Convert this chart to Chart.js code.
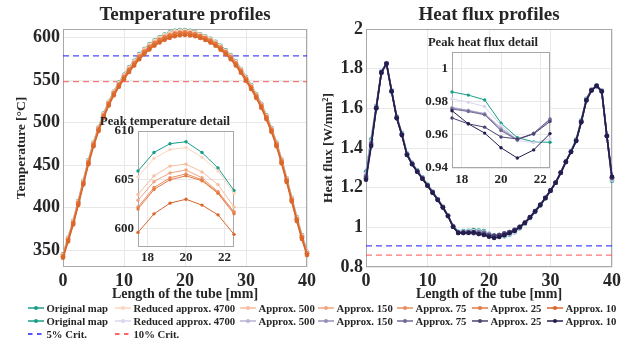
<!DOCTYPE html>
<html>
<head>
<meta charset="utf-8">
<script src="https://cdn.jsdelivr.net/npm/chart.js@4.4.1/dist/chart.umd.min.js"></script>
<style>
  body { margin: 0; background: #fff; }
  #wrap { position: relative; width: 639px; height: 341px; overflow: hidden; background: #fff; }
  #wrap canvas { position: absolute; }
  .leg { position: absolute; height: 14px; display: flex; align-items: center; white-space: nowrap;
         font: bold 10.7px "Liberation Serif", serif; color: #262626; }
  .leg svg { margin-right: 2.5px; }
</style>
</head>
<body>
<div id="wrap">
  <canvas id="tempMain" width="320" height="303" style="left:0;top:0"></canvas>
  <canvas id="fluxMain" width="319" height="303" style="left:320px;top:0"></canvas>
  <canvas id="tempInset" width="180" height="160" style="left:96px;top:110px"></canvas>
  <canvas id="fluxInset" width="170" height="165" style="left:416px;top:25px"></canvas>
  <div id="legend"></div>
</div>
<script>
// positions along the tube [mm]
var tubeX = [0, 0.833, 1.667, 2.5, 3.333, 4.167, 5, 5.833, 6.667, 7.5, 8.333, 9.167, 10, 10.833, 11.667, 12.5,
  13.333, 14.167, 15, 15.833, 16.667, 17.5, 18.333, 19.167, 20, 20.833, 21.667, 22.5, 23.333, 24.167, 25,
  25.833, 26.667, 27.5, 28.333, 29.167, 30, 30.833, 31.667, 32.5, 33.333, 34.167, 35, 35.833, 36.667, 37.5,
  38.333, 39.167, 40];

var seriesNames = ['Original map', 'Reduced approx. 4700', 'Approx. 500', 'Approx. 150', 'Approx. 75', 'Approx. 25', 'Approx. 10'];

// temperature profiles [°C]
var tempOriginal = [345, 364.5, 384.5, 407.5, 431.5, 455.5, 476.5, 494.5, 510.5, 524.5, 536.5, 547, 556, 565, 572.5, 580.5,
  586.5, 592, 596.5, 600.3, 603.4, 605.9, 607.8, 608.7, 608.9, 607.8, 606.2, 603.9, 601.4, 598.4, 594.8,
  590.1, 585, 579, 571.6, 563, 553.5, 544, 533.5, 522, 508.5, 493.5, 476.5, 456.5, 434.5, 411.5, 388.5, 367.5, 348];
var tempReduced4700 = [344.5, 364, 384, 407, 431, 455, 476, 494, 510, 524.3, 536.3, 546.5, 555.5, 564.3, 572, 579.7,
  585.8, 591.3, 595.9, 599.7, 602.8, 605.3, 607.2, 608.1, 608.3, 607.3, 605.9, 603.6, 601.1, 598, 594.3,
  589.6, 584.4, 578.4, 571, 562.5, 553, 543.5, 533, 521.5, 508, 493, 476, 456, 434, 411, 388, 367, 347.5];
var tempApprox500 = [343.5, 363, 383, 406, 430, 454, 475, 493, 509, 523, 535, 545.3, 554.3, 563, 570.6, 578.2,
  584.3, 589.8, 594.3, 598.1, 601.2, 603.5, 605.4, 606.4, 606.6, 605.8, 604.5, 602.2, 599.8, 596.8, 593.1,
  588.4, 583.2, 577.2, 569.8, 561.3, 551.8, 542.3, 531.8, 520.3, 506.8, 491.8, 474.8, 454.8, 432.6, 409.5, 386.5, 365.5, 346.3];
var tempApprox150 = [343, 362.5, 382.5, 405.5, 429.5, 453.5, 474.5, 492.5, 508.5, 522.6, 534.6, 544.8, 553.8, 562.4, 570, 577.6,
  583.7, 589.2, 593.7, 597.5, 600.6, 602.9, 604.8, 605.7, 606.0, 605.2, 603.8, 601.7, 599.3, 596.3, 592.6,
  587.9, 582.7, 576.7, 569.3, 560.8, 551.3, 541.8, 531.3, 519.8, 506.3, 491.3, 474.3, 454.3, 432.2, 409.2, 386.2, 365.2, 346];
var tempApprox75 = [342.5, 362, 382, 405, 429, 453, 474, 492, 508, 522.2, 534.2, 544.3, 553.3, 561.9, 569.5, 577.1,
  583.2, 588.7, 593.2, 597, 600, 602.2, 604.2, 605.2, 605.6, 605.0, 603.7, 601.7, 599.2, 596.2, 592.5,
  587.8, 582.6, 576.6, 569.2, 560.7, 551.2, 541.7, 531.2, 519.7, 506.2, 491.2, 474.2, 454.2, 432.1, 409.1, 386.1, 365.1, 345.8];
var tempApprox25 = [342.3, 361.8, 381.8, 404.8, 428.8, 452.8, 473.8, 491.8, 507.8, 522, 534, 544.1, 553.1, 561.7, 569.3, 576.9,
  583, 588.5, 593, 596.8, 599.8, 602.0, 604.0, 605.0, 605.4, 604.9, 603.6, 601.5, 599, 596, 592.3,
  587.6, 582.4, 576.4, 569, 560.5, 551, 541.5, 531, 519.5, 506, 491, 474, 454, 431.9, 408.9, 385.9, 364.9, 345.6];
var tempApprox10 = [341, 360, 380, 403, 427, 451, 472, 490, 506, 520, 532, 542, 551, 559.5, 567, 574.5,
  580.5, 586, 590.5, 594.2, 597.3, 599.6, 601.5, 602.6, 603.0, 602.4, 601.4, 599.4, 597.0, 594.0, 590.3,
  585.6, 580.4, 574.4, 567, 558.5, 549, 539.5, 529, 517.5, 504, 489, 472, 452, 430, 407, 384, 363, 344];

// heat flux profiles [W/mm^2]
var fluxOriginal = [1.28, 1.443, 1.612, 1.785, 1.828, 1.69, 1.558, 1.475, 1.372, 1.325, 1.287, 1.252, 1.216, 1.181, 1.143, 1.104,
  1.06, 1.006, 0.978, 0.981, 0.983, 0.9858, 0.9839, 0.981, 0.967, 0.9583, 0.9557, 0.9555, 0.962, 0.975, 0.995,
  1.018, 1.047, 1.078, 1.11, 1.146, 1.184, 1.225, 1.276, 1.332, 1.385, 1.442, 1.54, 1.648, 1.695, 1.716, 1.69, 1.462, 1.235];
var fluxReduced4700 = [1.27, 1.435, 1.608, 1.784, 1.827, 1.689, 1.556, 1.472, 1.37, 1.323, 1.285, 1.25, 1.214, 1.179, 1.141, 1.103,
  1.059, 1.005, 0.976, 0.978, 0.98, 0.9816, 0.9796, 0.977, 0.9657, 0.9565, 0.9553, 0.9575, 0.964, 0.977, 0.996,
  1.019, 1.048, 1.079, 1.111, 1.147, 1.184, 1.225, 1.276, 1.331, 1.383, 1.44, 1.537, 1.646, 1.694, 1.715, 1.689, 1.461, 1.24];
var fluxApprox500 = [1.262, 1.43, 1.606, 1.783, 1.827, 1.688, 1.555, 1.47, 1.369, 1.322, 1.284, 1.249, 1.213, 1.178, 1.14, 1.102,
  1.058, 1.004, 0.975, 0.976, 0.977, 0.9765, 0.9748, 0.9728, 0.964, 0.9572, 0.9605, 0.9688, 0.976, 0.987, 1.003,
  1.024, 1.052, 1.082, 1.114, 1.149, 1.186, 1.226, 1.276, 1.331, 1.382, 1.438, 1.535, 1.644, 1.693, 1.714, 1.688, 1.461, 1.245];
var fluxApprox150 = [1.258, 1.425, 1.605, 1.782, 1.826, 1.687, 1.554, 1.469, 1.368, 1.321, 1.283, 1.248, 1.212, 1.177, 1.14, 1.102,
  1.058, 1.004, 0.974, 0.975, 0.976, 0.976, 0.9745, 0.9724, 0.9632, 0.957, 0.9608, 0.9692, 0.976, 0.987, 1.003,
  1.024, 1.052, 1.082, 1.114, 1.149, 1.186, 1.226, 1.276, 1.331, 1.382, 1.437, 1.534, 1.643, 1.692, 1.714, 1.687, 1.461, 1.247];
var fluxApprox75 = [1.254, 1.42, 1.603, 1.781, 1.826, 1.686, 1.553, 1.468, 1.367, 1.32, 1.282, 1.247, 1.211, 1.176, 1.139, 1.101,
  1.058, 1.004, 0.973, 0.974, 0.975, 0.9755, 0.974, 0.972, 0.9625, 0.9568, 0.961, 0.9695, 0.976, 0.987, 1.003,
  1.024, 1.052, 1.082, 1.114, 1.149, 1.186, 1.226, 1.276, 1.331, 1.381, 1.436, 1.533, 1.642, 1.691, 1.713, 1.686, 1.46, 1.25];
var fluxApprox25 = [1.247, 1.415, 1.601, 1.78, 1.825, 1.686, 1.552, 1.467, 1.366, 1.319, 1.281, 1.246, 1.211, 1.176, 1.139, 1.101,
  1.057, 1.003, 0.972, 0.972, 0.972, 0.9701, 0.9666, 0.9646, 0.9587, 0.9575, 0.9605, 0.968, 0.975, 0.986, 1.002,
  1.023, 1.051, 1.081, 1.113, 1.148, 1.185, 1.225, 1.275, 1.33, 1.381, 1.436, 1.532, 1.641, 1.691, 1.713, 1.686, 1.46, 1.252];
var fluxApprox10 = [1.24, 1.41, 1.6, 1.78, 1.825, 1.685, 1.55, 1.465, 1.365, 1.318, 1.28, 1.245, 1.21, 1.175, 1.138, 1.1,
  1.057, 1.003, 0.972, 0.972, 0.973, 0.9745, 0.9666, 0.961, 0.9522, 0.946, 0.9509, 0.9607, 0.97, 0.982, 1.0,
  1.022, 1.05, 1.08, 1.112, 1.148, 1.185, 1.225, 1.275, 1.33, 1.38, 1.435, 1.53, 1.64, 1.69, 1.712, 1.685, 1.46, 1.255];

// 5% and 10% criteria
var tempCrit = [578.4, 548.0];
var fluxCrit = [0.907, 0.860];

// ticks
var xTicksMain = [0, 10, 20, 30, 40];
var xTicksInset = [18, 20, 22];
var tempTicks = [350, 400, 450, 500, 550, 600];
var tempInsetTicks = [600, 605, 610];
var fluxTicks = [0.8, 1, 1.2, 1.4, 1.6, 1.8, 2];
var fluxInsetTicks = [0.94, 0.96, 0.98, 1];

// indices shown in the zoomed insets (17.5 .. 22.5 mm)
var insetFrom = 21, insetTo = 28;

var tempSeries = [tempOriginal, tempReduced4700, tempApprox500, tempApprox150, tempApprox75, tempApprox25, tempApprox10];
var fluxSeries = [fluxOriginal, fluxReduced4700, fluxApprox500, fluxApprox150, fluxApprox75, fluxApprox25, fluxApprox10];

var tempColors = ['#1b9e87', '#fcd6c1', '#f8bd9f', '#f2a47f', '#eb8c5f', '#e47a44', '#d9662b'];
var fluxColors = ['#1b9e87', '#d8d6ee', '#b7b2d4', '#958eb6', '#706894', '#4a4272', '#241e4e'];
var critColors = ['rgba(40,40,255,0.85)', 'rgba(255,70,70,0.75)'];

var ink = '#262626';
var gridColor = '#e8e8e8';
var serif = '"Liberation Serif", "Times New Roman", serif';

// white plot background + grey box round the axes
var framePlugin = {
  id: 'frame',
  beforeDraw: function (chart, args, opts) {
    if (!opts.fill) return;
    var a = chart.chartArea, ctx = chart.ctx;
    ctx.save();
    ctx.fillStyle = opts.fill;
    ctx.fillRect(a.left, a.top, a.right - a.left, a.bottom - a.top);
    ctx.restore();
  },
  beforeDatasetsDraw: function (chart) {
    var a = chart.chartArea, ctx = chart.ctx;
    ctx.save();
    ctx.strokeStyle = '#a8a8a8';
    ctx.lineWidth = 1;
    ctx.strokeRect(Math.round(a.left) + 0.5, Math.round(a.top) + 0.5, Math.round(a.right - a.left) - 1, Math.round(a.bottom - a.top) - 1);
    ctx.restore();
  }
};

function label(v) {
  return String(Math.round(v * 100) / 100);
}

function critLine(y, color, x0, x1) {
  return {
    data: [{x: x0, y: y}, {x: x1, y: y}],
    borderColor: color, borderWidth: 1.3, borderDash: [6, 4],
    pointRadius: 0, order: 20, clip: false
  };
}

function makeChart(id, cfg) {
  var datasets = cfg.series.map(function (s, k) {
    var xs = tubeX.slice(cfg.from, cfg.to);
    var ys = s.slice(cfg.from, cfg.to);
    return {
      label: seriesNames[k],
      data: xs.map(function (x, i) { return {x: x, y: ys[i]}; }),
      borderColor: cfg.colors[k],
      backgroundColor: cfg.colors[k],
      pointBackgroundColor: cfg.colors[k],
      borderWidth: cfg.lineWidth,
      pointRadius: cfg.pointRadius,
      pointBorderWidth: 0,
      order: 6 - k,
      clip: false
    };
  });
  if (cfg.crit) {
    datasets.push(critLine(cfg.crit[0], critColors[0], 0, 40));
    datasets.push(critLine(cfg.crit[1], critColors[1], 0, 40));
  }

  return new Chart(document.getElementById(id), {
    type: 'line',
    data: {datasets: datasets},
    options: {
      responsive: false,
      animation: false,
      layout: {padding: {left: 0, right: cfg.padRight, top: 0, bottom: 0}},
      plugins: {
        legend: {display: false},
        tooltip: {enabled: false},
        frame: {fill: cfg.fill},
        title: {
          display: true, text: cfg.title, fullSize: cfg.titleFull, color: ink,
          font: {family: serif, size: cfg.titleSize, weight: 'bold', lineHeight: 1.2},
          padding: cfg.titlePad
        }
      },
      scales: {
        x: {
          type: 'linear', min: cfg.xMin, max: cfg.xMax,
          afterBuildTicks: function (s) { s.ticks = cfg.xTicks.map(function (v) { return {value: v}; }); },
          afterFit: function (s) { s.height = cfg.xHeight; },
          grid: {color: gridColor, drawTicks: false},
          border: {display: false},
          ticks: {color: ink, font: {family: serif, size: cfg.tickSize, weight: 'bold'}, padding: cfg.xPad,
                  maxRotation: 0, autoSkip: false, callback: label},
          title: {display: !!cfg.xTitle, text: cfg.xTitle, color: ink,
                  font: {family: serif, size: 14, weight: 'bold'}, padding: {top: 0, bottom: 0}}
        },
        y: {
          type: 'linear', min: cfg.yMin, max: cfg.yMax,
          afterBuildTicks: function (s) { s.ticks = cfg.yTicks.map(function (v) { return {value: v}; }); },
          afterFit: function (s) { s.width = cfg.yWidth; },
          grid: {color: gridColor, drawTicks: false},
          border: {display: false},
          ticks: {color: ink, font: {family: serif, size: cfg.tickSize, weight: 'bold'}, padding: cfg.yPad,
                  autoSkip: false, callback: label},
          title: {display: !!cfg.yTitle, text: cfg.yTitle, color: ink,
                  font: {family: serif, size: 13.5, weight: 'bold'}, padding: {top: cfg.yTitlePad, bottom: 0}}
        }
      }
    },
    plugins: [framePlugin]
  });
}

// main plots
makeChart('tempMain', {
  series: tempSeries, colors: tempColors, crit: tempCrit, from: 0, to: 49,
  lineWidth: 1.6, pointRadius: 2.3,
  title: 'Temperature profiles', titleSize: 19, titleFull: false, titlePad: {top: 4, bottom: 2.2},
  xMin: 0, xMax: 40, xTicks: xTicksMain, xHeight: 36, xPad: 4, xTitle: 'Length of the tube [mm]',
  yMin: 330, yMax: 610, yTicks: tempTicks, yWidth: 63, yPad: 3, yTitle: 'Temperature [°C]', yTitlePad: 13,
  tickSize: 18, padRight: 12
});
makeChart('fluxMain', {
  series: fluxSeries, colors: fluxColors, crit: fluxCrit, from: 0, to: 49,
  lineWidth: 1.6, pointRadius: 2.3,
  title: 'Heat flux profiles', titleSize: 19, titleFull: false, titlePad: {top: 4, bottom: 2.2},
  xMin: 0, xMax: 40, xTicks: xTicksMain, xHeight: 36, xPad: 4, xTitle: 'Length of the tube [mm]',
  yMin: 0.8, yMax: 2, yTicks: fluxTicks, yWidth: 46, yPad: 3, yTitle: 'Heat flux [W/mm²]', yTitlePad: 0,
  tickSize: 18, padRight: 27
});

// zoomed insets (canvas centred on the plot area so the title centres on it)
makeChart('tempInset', {
  series: tempSeries, colors: tempColors, from: insetFrom, to: insetTo,
  lineWidth: 1, pointRadius: 1.7, fill: '#ffffff',
  title: 'Peak temperature detail', titleSize: 12.6, titleFull: true, titlePad: {top: 4.1, bottom: 1.8},
  xMin: 17.5, xMax: 22.5, xTicks: xTicksInset, xHeight: 23, xPad: 3,
  yMin: 598.1, yMax: 610, yTicks: tempInsetTicks, yWidth: 42, yPad: 4,
  tickSize: 13, padRight: 42
});
makeChart('fluxInset', {
  series: fluxSeries, colors: fluxColors, from: insetFrom, to: insetTo,
  lineWidth: 1, pointRadius: 1.7, fill: '#ffffff',
  title: 'Peak heat flux detail', titleSize: 12.6, titleFull: true, titlePad: {top: 10.1, bottom: 1.5},
  xMin: 17.5, xMax: 22.5, xTicks: xTicksInset, xHeight: 22, xPad: 3.5,
  yMin: 0.94, yMax: 1.01, yTicks: fluxInsetTicks, yWidth: 36, yPad: 4,
  tickSize: 13, padRight: 36
});

// legend (seven columns, three rows)
var legendCols = [28, 115, 240, 318, 397, 472, 547];
var legendRows = [308, 321, 334];

function legendItem(x, y, color, text, dashed) {
  var d = document.createElement('div');
  d.className = 'leg';
  d.style.left = x + 'px';
  d.style.top = (y - 7) + 'px';
  var svg = '<svg width="16" height="8" viewBox="0 0 16 8">' +
    '<line x1="0" y1="4" x2="16" y2="4" stroke="' + color + '" stroke-width="1.5"' +
    (dashed ? ' stroke-dasharray="4.5,4.5"' : '') + '/>' +
    (dashed ? '' : '<circle cx="8" cy="4" r="2" fill="' + color + '"/>') + '</svg>';
  d.innerHTML = svg + '<span>' + text + '</span>';
  document.getElementById('legend').appendChild(d);
}

seriesNames.forEach(function (name, k) {
  legendItem(legendCols[k], legendRows[0], tempColors[k], name, false);
  legendItem(legendCols[k], legendRows[1], fluxColors[k], name, false);
});
legendItem(legendCols[0], legendRows[2], '#2020ff', '5% Crit.', true);
legendItem(legendCols[1], legendRows[2], '#ff3030', '10% Crit.', true);
</script>
</body>
</html>
